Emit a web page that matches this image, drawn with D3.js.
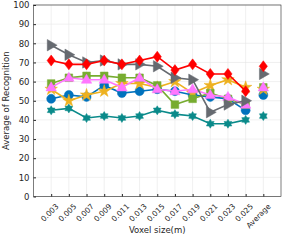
<!DOCTYPE html>
<html><head><meta charset="utf-8">
<script src="https://cdn.jsdelivr.net/npm/d3@7"></script>
<style>body{margin:0;background:#fff}svg{display:block}</style>
</head><body>
<svg id="c" width="287" height="241"></svg>
<script>
const categories = ["0.003","0.005","0.007","0.009","0.011","0.013","0.015","0.017","0.019","0.021","0.023","0.025","Average"];
const yTicks = [0,10,20,30,40,50,60,70,80,90,100];
const teal   = [45,46,41,42,41,42,45,43,42,38,38,40,42];
const blue   = [51,53,52,58,54,55,56,55,53,52,51,45,53];
const orange = [56,50,53,55,59,59,57,60,54,58,61,57,56];
const green  = [59,62,63,63,62,62,58,48,51,54,51,48,57];
const pink   = [57,62,61,61,57,62,56,55,56,53,52,48,57];
const gray   = [79,74,70,71,69,69,68,62,61,44,48,50,64];
const red    = [71,69,69,71,69,71,73,66,69,64,64,55,68];

const series = [
  {v:teal, c:"#0a8a8a", m:"star6", s:4.5},
  {v:blue, c:"#0072bd", m:"circle", s:4.5},
  {v:orange, c:"#edb120", m:"star", s:5.5},
  {v:green, c:"#77ac30", m:"square", s:4.5},
  {v:pink, c:"#ff77ff", m:"triUp", s:5.5},
  {v:gray, c:"#666a70", m:"triRight", s:6},
  {v:red, c:"#ff0000", m:"diamond", s:5.5}
];

const svg = d3.select("#c");
const L=33.5, R=281, T=5, B=196.5;
const x = d3.scaleLinear().domain([0,14]).range([L,R]);
const y = d3.scaleLinear().domain([0,100]).range([B,T]);
const g = svg.append("g");

// grid
g.selectAll(".gx").data(categories).join("line")
  .attr("x1",(d,i)=>x(i+1)).attr("x2",(d,i)=>x(i+1)).attr("y1",T).attr("y2",B)
  .attr("stroke","#e6e6e6").attr("stroke-width",0.6);
g.selectAll(".gy").data(yTicks).join("line")
  .attr("x1",L).attr("x2",R).attr("y1",d=>y(d)).attr("y2",d=>y(d))
  .attr("stroke","#e6e6e6").attr("stroke-width",0.6);

// axes box
g.append("rect").attr("x",L).attr("y",T).attr("width",R-L).attr("height",B-T)
  .attr("fill","none").attr("stroke","#262626").attr("stroke-width",0.6);

const yAxis = d3.axisLeft(y).tickValues(yTicks).tickSize(-2.5).tickPadding(4);
const ya = svg.append("g").attr("transform",`translate(${L},0)`).call(yAxis);
ya.select(".domain").remove();
ya.selectAll("line").attr("stroke","#262626");
ya.selectAll("text").attr("font-family","DejaVu Sans, sans-serif").attr("font-size",8.5).attr("fill","#262626");

const xAxis = d3.axisBottom(x).tickValues(categories.map((d,i)=>i+1)).tickFormat((d,i)=>categories[i]).tickSize(-2.5).tickPadding(4);
const xa = svg.append("g").attr("transform",`translate(0,${B})`).call(xAxis);
xa.select(".domain").remove();
xa.selectAll("line").attr("stroke","#262626");
xa.selectAll("text").attr("font-family","DejaVu Sans, sans-serif").attr("font-size",7.5).attr("fill","#262626")
  .attr("text-anchor","end").attr("dy","0.3em").attr("transform","translate(3,6) rotate(-45)");

svg.append("text").attr("x",(L+R)/2).attr("y",233).attr("text-anchor","middle")
  .attr("font-family","DejaVu Sans, sans-serif").attr("font-size",8.5).attr("fill","#262626").text("Voxel size(m)");
svg.append("text").attr("transform",`translate(9,${(T+B)/2}) rotate(-90)`).attr("text-anchor","middle")
  .attr("font-family","DejaVu Sans, sans-serif").attr("font-size",8.5).attr("fill","#262626").text("Average of Recognition");

function markerPath(m,s){
  switch(m){
    case "circle": return d3.symbol(d3.symbolCircle, Math.PI*s*s)();
    case "square": { const h=s*0.85; return `M${-h},${-h}H${h}V${h}H${-h}Z`; }
    case "diamond": return `M0,${-s}L${s*0.75},0L0,${s}L${-s*0.75},0Z`;
    case "triUp": return `M0,${-s}L${s*0.95},${s*0.65}L${-s*0.95},${s*0.65}Z`;
    case "triRight": return `M${s},0L${-s*0.65},${s*0.95}L${-s*0.65},${-s*0.95}Z`;
    case "star": return d3.symbol(d3.symbolStar, s*s*1.6)();
    case "star6": {
      let p=""; for(let k=0;k<12;k++){const a=k*Math.PI/6 - Math.PI/2; const r=k%2?s*0.6:s; p+=(k?"L":"M")+(r*Math.cos(a)).toFixed(2)+","+(r*Math.sin(a)).toFixed(2);} return p+"Z";
    }
  }
}

const line = d3.line().x((d,i)=>x(i+1)).y(d=>y(d));
series.forEach(se=>{
  const main = se.v.slice(0,12);
  g.append("path").attr("d",line(main)).attr("fill","none").attr("stroke",se.c).attr("stroke-width",1.6);
  g.selectAll(null).data(se.v).join("path")
    .attr("transform",(d,i)=>`translate(${x(i+1)},${y(d)})`)
    .attr("d",markerPath(se.m,se.s)).attr("fill",se.c).attr("stroke",se.c).attr("stroke-width",0.5);
});
</script>
</body></html>
